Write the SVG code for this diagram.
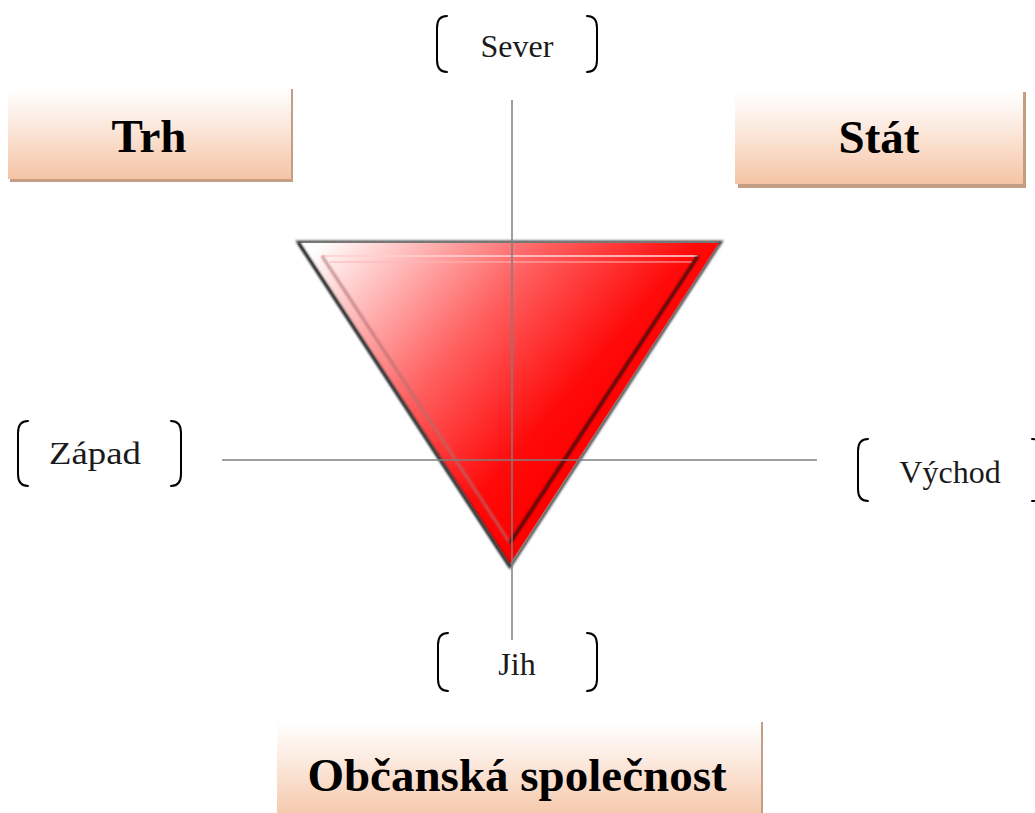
<svg xmlns="http://www.w3.org/2000/svg" width="1035" height="813" viewBox="0 0 1035 813">
<defs>
<linearGradient id="boxGrad" x1="0" y1="0" x2="0" y2="1">
<stop offset="0" stop-color="#ffffff"/>
<stop offset="0.35" stop-color="#fcece2"/>
<stop offset="1" stop-color="#f5c4a5"/>
</linearGradient>
<linearGradient id="triGrad" gradientUnits="userSpaceOnUse" x1="315" y1="248" x2="570" y2="470">
<stop offset="0" stop-color="#ffffff"/>
<stop offset="0.5" stop-color="#ff6262"/>
<stop offset="0.85" stop-color="#ff0a0a"/>
<stop offset="1" stop-color="#ff0000"/>
</linearGradient>
<filter id="soft" x="-5%" y="-5%" width="110%" height="110%">
<feGaussianBlur stdDeviation="1"/>
</filter>
<style>
.shadow{fill:#c49d85}
.box{fill:url(#boxGrad)}
.big{font-family:"Liberation Serif","DejaVu Serif",serif;font-weight:bold;font-size:47px;fill:#000;text-anchor:middle}
.small{font-family:"Liberation Serif","DejaVu Serif",serif;font-size:32px;fill:#1a1a1a;text-anchor:middle}
.br{fill:none;stroke:#000;stroke-width:2;stroke-linecap:round}
.axis{stroke:#7f7f7f;stroke-width:1.5;fill:none}
</style>
</defs>
<rect width="1035" height="813" fill="#ffffff"/>

<g id="triangle">
<polygon points="298,242 721,242 510,567" fill="none" stroke="#4a4a4a" stroke-width="3" filter="url(#soft)"/>
<polygon points="300,243 719,243 510,564" fill="url(#triGrad)"/>
<polyline points="300,243 719,243" stroke="#b8b8b8" stroke-width="2" fill="none" filter="url(#soft)"/>
<polyline points="299,243 510,566" stroke="#2a2a2a" stroke-width="2.5" fill="none" filter="url(#soft)"/>
<polygon points="322,256 698,256 510,543" fill="url(#triGrad)"/>
<polyline points="322,256 698,256" stroke="#ffd0d0" stroke-width="2" fill="none" opacity="0.8"/>
<polyline points="330,262 692,262" stroke="#ffb5b5" stroke-width="1.5" fill="none" opacity="0.7"/>
<polyline points="322,256 510,543" stroke="#b07070" stroke-width="3" fill="none" opacity="0.7" filter="url(#soft)"/>
<polyline points="698,256 510,543" stroke="#3a0808" stroke-width="3" fill="none" filter="url(#soft)"/>
</g>

<g id="connectors">
<line class="axis" x1="512" y1="100" x2="512" y2="640"/>
<line class="axis" x1="222" y1="460" x2="817" y2="460"/>
</g>

<g id="node-trh">
<rect class="shadow" x="10" y="89" width="283" height="93"/>
<rect class="box" x="8" y="89" width="283" height="90"/>
<text class="big" x="149" y="152">Trh</text>
</g>

<g id="node-stat">
<rect class="shadow" x="738" y="92" width="288" height="96"/>
<rect class="box" x="735" y="92" width="288" height="92"/>
<text class="big" x="879" y="153">Stát</text>
</g>

<g id="node-obcanska">
<rect class="shadow" x="279" y="722" width="484" height="100"/>
<rect class="box" x="277" y="722" width="484" height="100"/>
<text class="big" x="517" y="791">Občanská společnost</text>
</g>

<g id="node-sever">
<path class="br" d="M447,16 C440,16 437,20 437,28 L437,60 C437,68 440,72 447,72"/>
<path class="br" d="M587,16 C594,16 597,20 597,28 L597,60 C597,68 594,72 587,72"/>
<text class="small" x="517" y="57">Sever</text>
</g>

<g id="node-zapad">
<path class="br" d="M28,421 C21,421 18,425 18,433 L18,474 C18,482 21,486 28,486"/>
<path class="br" d="M171,421 C178,421 181,425 181,433 L181,474 C181,482 178,486 171,486"/>
<text class="small" x="95" y="464" textLength="92" lengthAdjust="spacingAndGlyphs">Západ</text>
</g>

<g id="node-vychod">
<path class="br" d="M868,439 C861,439 858,443 858,451 L858,489 C858,497 861,501 868,501"/>
<path class="br" d="M1032,439 C1039,439 1042,443 1042,451 L1042,489 C1042,497 1039,501 1032,501"/>
<text class="small" x="950" y="483">Východ</text>
</g>

<g id="node-jih">
<path class="br" d="M448,633 C441,633 438,637 438,645 L438,679 C438,687 441,691 448,691"/>
<path class="br" d="M587,633 C594,633 597,637 597,645 L597,679 C597,687 594,691 587,691"/>
<text class="small" x="517" y="675">Jih</text>
</g>
</svg>
